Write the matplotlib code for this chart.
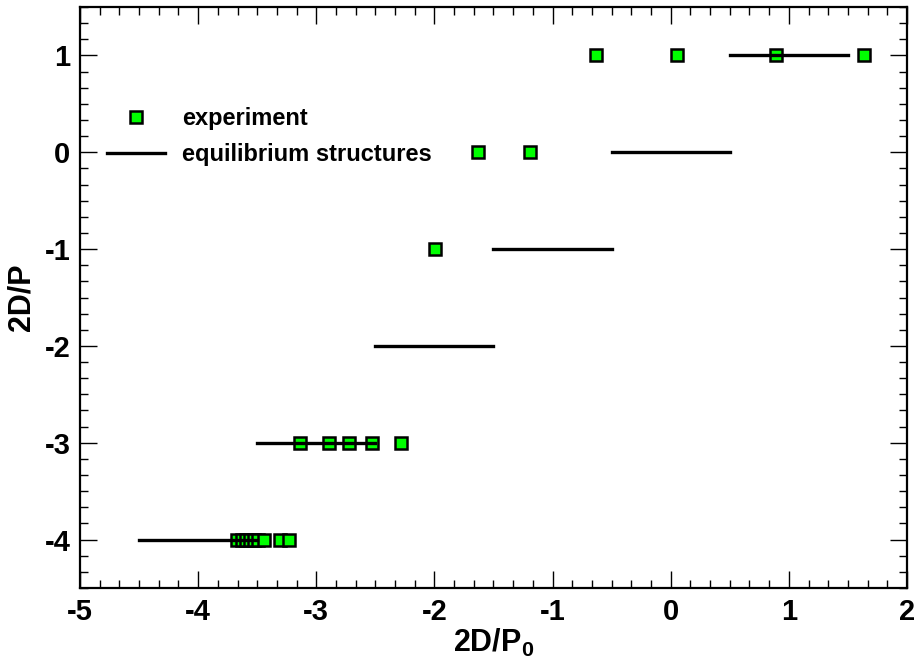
import numpy as np
import matplotlib.pyplot as plt
from matplotlib.ticker import MultipleLocator

plt.rcParams['font.family'] = ['Liberation Sans', 'DejaVu Sans']
plt.rcParams['font.weight'] = 'bold'
plt.rcParams['axes.labelweight'] = 'bold'
plt.rcParams['axes.unicode_minus'] = False
plt.rcParams['mathtext.fontset'] = 'custom'
plt.rcParams['mathtext.rm'] = 'Liberation Sans:bold'
plt.rcParams['mathtext.it'] = 'Liberation Sans:bold'
plt.rcParams['mathtext.bf'] = 'Liberation Sans:bold'

# experiment points (2D/P0, 2D/P)
exp_x = [-3.671, -3.629, -3.595, -3.561, -3.527, -3.493, -3.442, -3.307, -3.231,
         -3.138, -2.890, -2.723, -2.526, -2.285,
         -1.995,
         -1.631, -1.191,
         -0.635, 0.053, 0.891, 1.639]
exp_y = [-4, -4, -4, -4, -4, -4, -4, -4, -4,
         -3, -3, -3, -3, -3,
         -1,
         0, 0,
         1, 1, 1, 1]

# equilibrium structures: plateau centres, levels and widths
eq_x = [-4, -3, -2, -1, 0, 1]
eq_y = [-4, -3, -2, -1, 0, 1]
eq_w = [1, 1, 1, 1, 1, 1]

fig = plt.figure(figsize=(9.15, 6.63), dpi=100)
ax = fig.add_axes([80/915, 75/663, 827/915, 581/663])

ax.plot(exp_x, exp_y, 's', ms=8.0, mfc='#00ff00', mec='black', mew=1.8,
        zorder=2, label='experiment')
for i in range(len(eq_x)):
    ax.plot([eq_x[i] - eq_w[i]/2, eq_x[i] + eq_w[i]/2], [eq_y[i], eq_y[i]],
            color='black', lw=2.4, zorder=3,
            label='equilibrium structures' if i == 0 else None)

ax.set_xlim(-5, 2)
ax.set_ylim(-4.5, 1.5)
ax.xaxis.set_major_locator(MultipleLocator(1))
ax.xaxis.set_minor_locator(MultipleLocator(1/6))
ax.yaxis.set_major_locator(MultipleLocator(1))
ax.yaxis.set_minor_locator(MultipleLocator(1/6))
ax.tick_params(which='both', direction='in', top=True, right=True, width=1.0)
ax.tick_params(which='major', length=12, labelsize=21, pad=7)
ax.tick_params(which='minor', length=5.5)
for s in ax.spines.values():
    s.set_linewidth(1.6)

ax.set_xlabel('2D/P$_\\mathbf{0}$', fontsize=22, labelpad=1)
ax.set_ylabel('2D/P', fontsize=22, labelpad=6)

ax.legend(loc='upper left', bbox_to_anchor=(0.033, 0.828), frameon=False,
          fontsize=17, handlelength=2.46, handletextpad=0.72, labelspacing=0.55,
          borderpad=0, borderaxespad=0, numpoints=1)

fig.savefig('out.png', dpi=100)
